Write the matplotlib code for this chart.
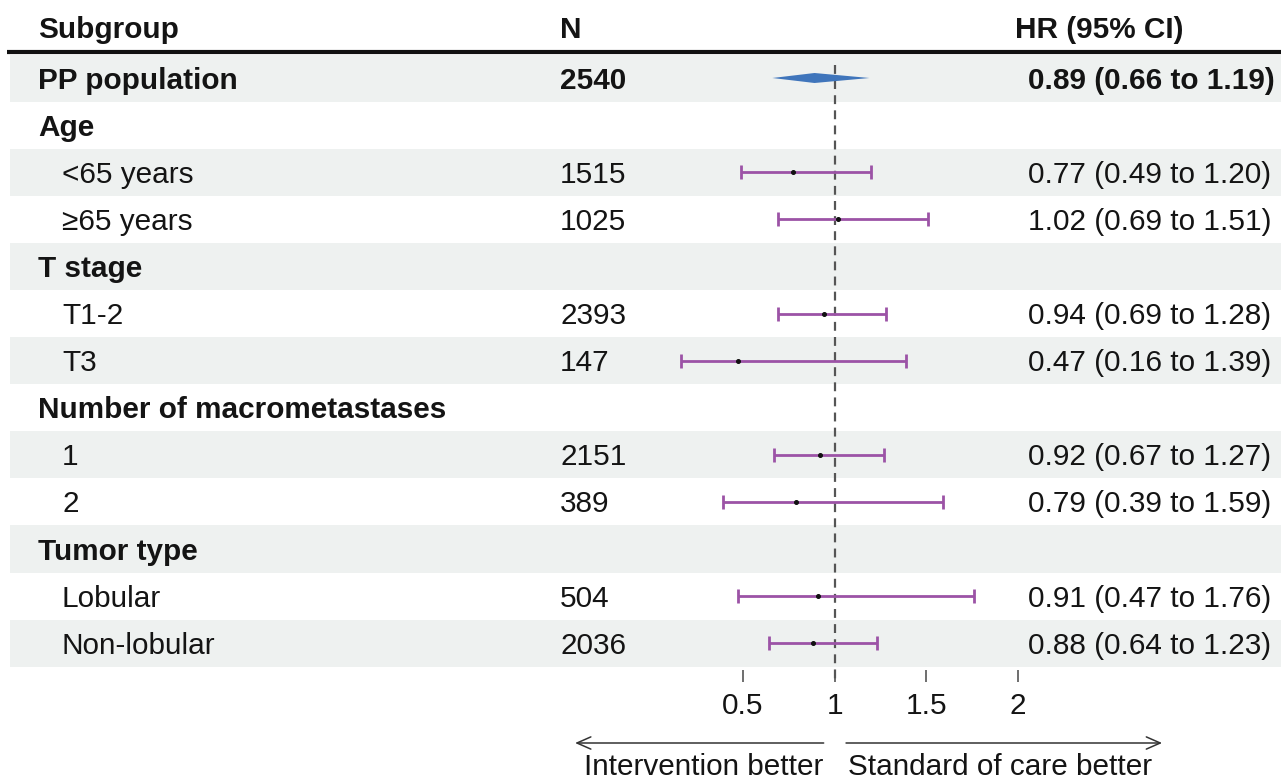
import matplotlib
matplotlib.use("Agg")
import matplotlib.pyplot as plt
from matplotlib.patches import Polygon
from matplotlib.transforms import blended_transform_factory

plt.rcParams['font.family'] = ['Liberation Sans', 'DejaVu Sans']

# table data
subgroups = ['PP population', 'Age', '<65 years', '≥65 years', 'T stage', 'T1-2', 'T3',
             'Number of macrometastases', '1', '2', 'Tumor type', 'Lobular', 'Non-lobular']
n_values = ['2540', '', '1515', '1025', '', '2393', '147', '', '2151', '389', '', '504', '2036']
hr = [0.89, None, 0.77, 1.02, None, 0.94, 0.47, None, 0.92, 0.79, None, 0.91, 0.88]
ci_low = [0.66, None, 0.49, 0.69, None, 0.69, 0.16, None, 0.67, 0.39, None, 0.47, 0.64]
ci_high = [1.19, None, 1.20, 1.51, None, 1.28, 1.39, None, 1.27, 1.59, None, 1.76, 1.23]
headings = [1, 4, 7, 10]   # category rows (bold, not indented)
overall = 0                # the PP population row

xticks = [0.5, 1, 1.5, 2]
xtick_labels = ['0.5', '1', '1.5', '2']

TXT = '#141414'
BAND = '#eef1f0'
PURPLE = '#9c53a6'
BLUE = '#3f75bb'
FS = 21.4

fig = plt.figure(figsize=(12.81, 7.83), dpi=100)
# axes spans full width; rows area from pixel 55 to 670 (from top)
ax = fig.add_axes([0, (783 - 670) / 783, 1, (670 - 55) / 783])
ax.patch.set_alpha(0)
px_per_unit = (1018 - 743) / 1.5
ax.set_xlim(0.5 - 743 / px_per_unit, 0.5 + (1281 - 743) / px_per_unit)
row_h = 47.1
ax.set_ylim((670 - 78) / row_h, (55 - 78) / row_h)
dy = 2.5 / row_h  # small downward nudge for text

nrows = len(subgroups)
# alternating bands
for i in range(0, nrows, 2):
    ax.axhspan(i - 0.5, i + 0.5, xmin=10 / 1281, xmax=1, color=BAND, lw=0, zorder=0)

tr = blended_transform_factory(ax.transAxes, ax.transData)
col_sub = 38 / 1281
col_ind = 62 / 1281
col_n = 560 / 1281
col_hr = 1028 / 1281

header_y = (27 - 78) / row_h + dy
ax.text(col_sub, header_y, 'Subgroup', transform=tr, ha='left', va='center',
        fontsize=FS, fontweight='bold', color=TXT, clip_on=False)
ax.text(col_n, header_y, 'N', transform=tr, ha='left', va='center',
        fontsize=FS, fontweight='bold', color=TXT, clip_on=False)
ax.text(1015 / 1281, header_y, 'HR (95% CI)', transform=tr, ha='left', va='center',
        fontsize=FS, fontweight='bold', color=TXT, clip_on=False)
ax.plot([7 / 1281, 1], [(52 - 78) / row_h] * 2, transform=tr, color='#111111',
        lw=3, clip_on=False, solid_capstyle='butt')

for i, name in enumerate(subgroups):
    bold = i in headings or i == overall
    x = col_sub if bold else col_ind
    w = 'bold' if bold else 'normal'
    ax.text(x, i + dy, name, transform=tr, ha='left', va='center', fontsize=FS,
            fontweight=w, color=TXT)
    if n_values[i]:
        ax.text(col_n, i + dy, n_values[i], transform=tr, ha='left', va='center',
                fontsize=FS, fontweight=w, color=TXT)
    if hr[i] is not None:
        ax.text(col_hr, i + dy, f'{hr[i]:.2f} ({ci_low[i]:.2f} to {ci_high[i]:.2f})',
                transform=tr, ha='left', va='center', fontsize=FS, fontweight=w,
                color=TXT)

# reference line
ax.plot([1, 1], [(65 - 78) / row_h, (682 - 78) / row_h], ls=(0, (4, 2.8)),
        color='#555555', lw=1.6, clip_on=False, zorder=2)

# error bars
for i in range(nrows):
    if hr[i] is None or i == overall:
        continue
    ax.errorbar(hr[i], i, xerr=[[hr[i] - ci_low[i]], [ci_high[i] - hr[i]]],
                fmt='none', ecolor=PURPLE, elinewidth=2.0, capsize=5,
                capthick=2.0, zorder=3)
    ax.plot(hr[i], i, 'o', color='#111111', ms=2.6, zorder=4)

# summary diamond
dh = 5 / row_h
ax.add_patch(Polygon([(ci_low[overall], overall), (hr[overall], overall - dh),
                      (ci_high[overall], overall), (hr[overall], overall + dh)],
                     closed=True, color=BLUE, lw=0, zorder=3))

# x axis
for s in ax.spines.values():
    s.set_visible(False)
ax.set_yticks([])
ax.set_xticks(xticks)
ax.set_xticklabels(xtick_labels, fontsize=FS, color=TXT)
ax.tick_params(axis='x', length=8.5, width=1.2, color='#555555', pad=7.5)

# direction arrows and labels
arrow_y = (743 - 78) / row_h
label_y = (767 - 78) / row_h
arrow_kw = dict(arrowstyle='->,head_length=0.5,head_width=0.22', color='#333333',
                lw=1.1, mutation_scale=20, shrinkA=0, shrinkB=0)
ax.annotate('', xy=(-0.416, arrow_y), xytext=(0.94, arrow_y), arrowprops=arrow_kw,
            annotation_clip=False)
ax.annotate('', xy=(2.786, arrow_y), xytext=(1.062, arrow_y), arrowprops=arrow_kw,
            annotation_clip=False)
ax.text(0.94, label_y, 'Intervention better', ha='right', va='center', fontsize=FS,
        color=TXT, clip_on=False)
ax.text(1.073, label_y, 'Standard of care better', ha='left', va='center', fontsize=FS,
        color=TXT, clip_on=False)

fig.savefig('out.png', dpi=100)
